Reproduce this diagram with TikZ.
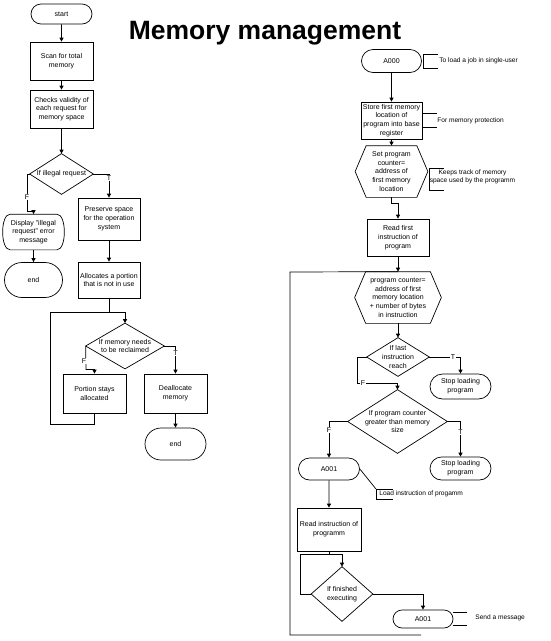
\documentclass[tikz,border=0pt]{standalone}
\usepackage{fontspec}
\setmainfont{Liberation Sans}
\usetikzlibrary{shapes.misc,arrows.meta}
\begin{document}
\begin{tikzpicture}[x=1pt,y=-1pt,line width=0.7pt,
  txt/.style={font=\fontsize{7}{8.7}\selectfont, align=center, inner sep=1pt},
  term/.style={txt, draw, rounded rectangle, minimum height=#1},
  proc/.style={txt, draw, rectangle, minimum height=#1},
  arr/.style={-{Triangle[length=4pt,width=4pt]}},
  lab/.style={font=\fontsize{7}{8}\selectfont, fill=white, inner sep=0.6pt},
  note/.style={font=\fontsize{6.6}{7.8}\selectfont, inner sep=0pt, anchor=west}
]
\useasboundingbox (0,0) rectangle (551,641);

% title
\node[font=\fontsize{26.5}{30}\selectfont\bfseries, anchor=base] (title) at (265,39) {Memory management};

% ---------------- left flow ----------------
\node[term=20pt, minimum width=63pt] (start) at (61.5,14) {start};
\node[proc=38pt, minimum width=63pt] (scan) at (61.5,61) {Scan for total\\memory};
\node[proc=38pt, minimum width=63pt] (checks) at (61.5,109) {Checks validity of\\each request for\\memory space};
\node[txt, minimum width=63pt, minimum height=40pt] (d1) at (61.5,174) {If illegal request};
\draw (d1.north) -- (d1.east) -- (d1.south) -- (d1.west) -- cycle;

\node[txt, minimum width=62pt, minimum height=35pt] (disp) at (33.5,232) {Display "illegal\\request" error\\message};
\draw ([xshift=8pt]disp.north west) -- ([xshift=-8pt]disp.north east)
  .. controls ([xshift=2pt]disp.north east) and ([xshift=2pt]disp.south east) .. ([xshift=-8pt]disp.south east)
  -- ([xshift=8pt]disp.south west)
  .. controls ([xshift=-2pt]disp.south west) and ([xshift=-2pt]disp.north west) .. ([xshift=8pt]disp.north west) -- cycle;
\node[term=35pt, minimum width=60pt] (end1) at (33.5,280) {end};

\node[proc=42pt, minimum width=62pt] (pres) at (109,219) {Preserve space\\for the operation\\system};
\node[proc=36pt, minimum width=62pt] (alloc) at (109,280) {Allocates a portion\\that is not in use};
\node[txt, minimum width=78pt, minimum height=45pt] (d2) at (125,346) {If memory needs\\to be reclaimed};
\draw (d2.north) -- (d2.east) -- (d2.south) -- (d2.west) -- cycle;
\node[proc=39pt, minimum width=63pt] (port) at (94.5,393.5) {Portion stays\\allocated};
\node[proc=39pt, minimum width=63pt] (deal) at (175.5,393.5) {Deallocate\\memory};
\node[term=32pt, minimum width=63pt] (end2) at (175.5,444) {end};

\draw[arr] (start) -- (scan);
\draw[arr] (scan) -- (checks);
\draw[arr] (checks) -- (d1.north);
\draw[arr] (d1.west) -- (27,174) -- (27,211) -| (disp.north);
\node[lab] (f1) at (27,197) {F};
\draw[arr] (d1.east) -| (pres.north);
\node[lab] (t1) at (109,178) {T};
\draw[arr] (disp.south) -- (end1.north);
\draw[arr] (pres) -- (alloc);
\draw[arr] (alloc.south) |- (125,312) -- (d2.north);
\draw (port.south) |- (50,424) -- (50,312) -- (125,312);
\draw[arr] (d2.west) -- (86,369.5) -| (port.north);
\node[lab] (f2) at (84,361) {F};
\draw[arr] (d2.east) -| (deal.north);
\node[lab] (t2) at (175.5,353) {T};
\draw[arr] (deal) -- (end2);

% ---------------- right flow ----------------
\node[term=23pt, minimum width=62pt] (a0) at (391.5,61) {A000};
\draw (a0.east) ++(16,-7) -- ++(-15,0) -- ++(0,14) -- ++(15,0);
\node[note] (n1) at (439,61) {To load a job in single-user};

\node[proc=37pt, minimum width=61pt] (store) at (391.5,120.5) {Store first memory\\location of\\program into base\\register};
\draw ([yshift=7pt]store.east) -- ++(15,0);
\draw ([yshift=-7pt]store.east) -- ++(15,0);
\node[note] (n2) at (437,120.5) {For memory protection};

\node[txt, minimum width=72pt, minimum height=51pt] (h1) at (391.5,171.5) {Set program\\counter=\\address of\\first memory\\location};
\draw (h1.west) -- ([xshift=11pt]h1.north west) -- ([xshift=-11pt]h1.north east) -- (h1.east)
  -- ([xshift=-11pt]h1.south east) -- ([xshift=11pt]h1.south west) -- cycle;
\draw (h1.east) ++(16,-3.5) -- ++(-15,0) -- ++(0,22) -- ++(15,0);
\node[font=\fontsize{6.6}{7.8}\selectfont, align=center, inner sep=0pt] (n3) at (472.5,177) {Keeps track of memory\\space used by the programm};

\node[proc=37pt, minimum width=62pt] (read1) at (398,237.5) {Read first\\instruction of\\program};

\node[txt, minimum width=86pt, minimum height=51pt] (h2) at (398,297.5) {program counter=\\address of first\\memory location\\+ number of bytes\\in instruction};
\draw (h2.west) -- ([xshift=11pt]h2.north west) -- ([xshift=-11pt]h2.north east) -- (h2.east)
  -- ([xshift=-11pt]h2.south east) -- ([xshift=11pt]h2.south west) -- cycle;

\node[txt, minimum width=62pt, minimum height=38pt] (d3) at (398,357) {If last\\instruction\\reach};
\draw (d3.north) -- (d3.east) -- (d3.south) -- (d3.west) -- cycle;
\node[term=25pt, minimum width=63pt] (stop1) at (460.5,386.5) {Stop loading\\program};

\node[txt, minimum width=99pt, minimum height=63pt] (d4) at (397.5,421.5) {If program counter\\greater than memory\\size};
\draw (d4.north) -- (d4.east) -- (d4.south) -- (d4.west) -- cycle;
\node[term=23pt, minimum width=63pt] (stop2) at (460.5,468.5) {Stop loading\\program};

\node[term=22pt, minimum width=63pt] (a1) at (329,469) {A001};
\draw (a1.east) -- (376,489) coordinate (b4);
\draw ([xshift=17pt]b4) -- (b4) -- ++(0,10) -- ++(17,0);
\node[note] (n4) at (379,494) {Load instruction of progamm};

\node[proc=43pt, minimum width=64pt] (read2) at (329,529.5) {Read instruction of\\programm};
\node[txt, minimum width=61pt, minimum height=54pt] (d5) at (342,594) {If finished\\executing};
\draw (d5.north) -- (d5.east) -- (d5.south) -- (d5.west) -- cycle;
\node[term=18pt, minimum width=62pt] (a2) at (423,619) {A001};
\draw ([yshift=6.5pt]a2.east) -- ++(14,0);
\draw ([yshift=-6.5pt]a2.east) -- ++(14,0);
\node[note] (n5) at (475,618) {Send a message};

\draw[arr] (a0) -- (store);
\draw[arr] (store) -- (h1.north);
\draw[arr] (h1.south) -- (391.5,203) -| (read1.north);
\draw[arr] (read1) -- (h2.north);
\draw[arr] (h2.south) -- (d3.north);
\draw[arr] (d3.east) -| (stop1.north);
\node[lab] (t3) at (453,357) {T};
\draw[arr] (d3.west) -- (357,357) -- (357,383) -| (d4.north);
\node[lab] (f3) at (363,383) {F};
\draw[arr] (d4.west) -| (a1.north);
\node[lab] (f4) at (329,430) {F};
\draw[arr] (d4.east) -| (stop2.north);
\node[lab] (t4) at (460.5,432) {T};
\draw[arr] (a1) -- (read2);
\draw[arr] (read2.south) |- (342,554) -- (d5.north);
\draw (d5.west) -- (300,594) -- (300,554) -- (342,554);
\draw[arr] (d5.east) -| (a2.north);
\coordinate (lp) at (421,635);
\draw (lp) -- (290,635) -- (290,272) -- (h2.north);
\end{tikzpicture}
\end{document}
